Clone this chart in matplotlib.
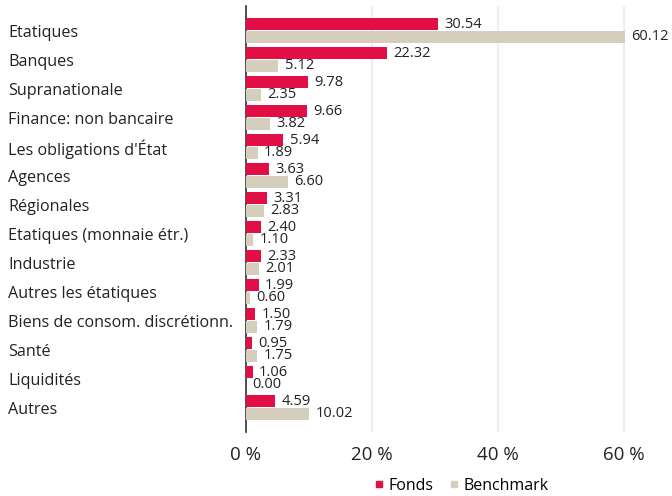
import matplotlib
matplotlib.use("Agg")
import matplotlib.pyplot as plt
import matplotlib.transforms as mtransforms
import numpy as np
from matplotlib.lines import Line2D

categories = ["Etatiques", "Banques", "Supranationale", "Finance: non bancaire",
              "Les obligations d'État", "Agences", "Régionales",
              "Etatiques (monnaie étr.)", "Industrie", "Autres les étatiques",
              "Biens de consom. discrétionn.", "Santé", "Liquidités", "Autres"]
fonds = [30.54, 22.32, 9.78, 9.66, 5.94, 3.63, 3.31, 2.40, 2.33, 1.99, 1.50, 0.95, 1.06, 4.59]
benchmark = [60.12, 5.12, 2.35, 3.82, 1.89, 6.60, 2.83, 1.10, 2.01, 0.60, 1.79, 1.75, 0.00, 10.02]
xticks = [0, 20, 40, 60]
xtick_labels = ["0 %", "20 %", "40 %", "60 %"]

RED = "#E20F47"
GRAY = "#D5CEBC"
FONT = "Open Sans"

fig = plt.figure(figsize=(6.72, 4.96), dpi=100)
ax = fig.add_axes([246/672, 1-432/496, (672-246)/672, (432-6)/496])

n = len(categories)
y = np.arange(n)
h = 0.41
ax.barh(y - 0.215, fonds, height=h, color=RED, zorder=3)
ax.barh(y + 0.215, benchmark, height=h, color=GRAY, zorder=3)

for yi, v in zip(y, fonds):
    ax.annotate(f"{v:.2f}", (v, yi - 0.215), xytext=(4.5, 0), textcoords="offset points",
                va="center", ha="left", fontsize=10.5, family=FONT, color="#222222")
for yi, v in zip(y, benchmark):
    ax.annotate(f"{v:.2f}", (v, yi + 0.215), xytext=(4.5, 0), textcoords="offset points",
                va="center", ha="left", fontsize=10.5, family=FONT, color="#222222")

ax.set_ylim(n - 1 + 0.85, -0.85)
ax.set_xlim(0, 67.6)
ax.set_xticks(xticks)
ax.set_xticklabels(xtick_labels, fontsize=13.5, family=FONT, color="#222222")
ax.tick_params(axis="x", length=0, pad=10)
ax.set_yticks([])
for s in ["top", "right", "bottom"]:
    ax.spines[s].set_visible(False)
ax.spines["left"].set_color("#333333")
ax.spines["left"].set_linewidth(1.2)
ax.grid(axis="x", color="#EEEEEE", linewidth=1.5, zorder=0)
ax.set_axisbelow(True)

trans = mtransforms.blended_transform_factory(fig.transFigure, ax.transData)
for yi, c in zip(y, categories):
    ax.text(8/672, yi, c, transform=trans + mtransforms.ScaledTranslation(0, -2/72, fig.dpi_scale_trans),
            va="center", ha="left", fontsize=11.6, family=FONT, color="#222222")

handles = [Line2D([], [], marker="s", linestyle="none", color=RED, markersize=4.5),
           Line2D([], [], marker="s", linestyle="none", color=GRAY, markersize=4.5)]
fig.legend(handles, ["Fonds", "Benchmark"], loc="center", bbox_to_anchor=(460/672, 1-486/496),
           ncol=2, frameon=False, prop={"family": FONT, "size": 11.5},
           handletextpad=0.1, columnspacing=0.8, handlelength=1.0)

fig.savefig("out.png", dpi=100)
